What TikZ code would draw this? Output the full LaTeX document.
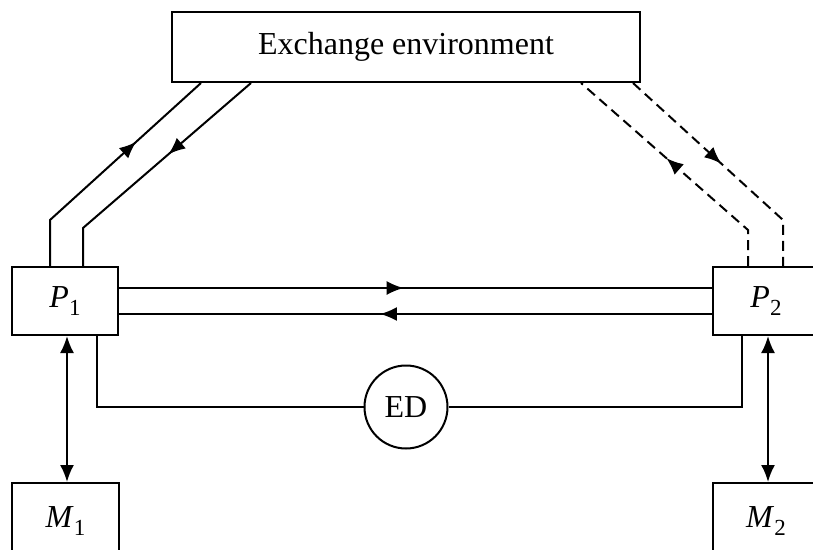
\documentclass[tikz,border=0pt]{standalone}
\usepackage{fontspec}
\setmainfont{Liberation Serif}
\usetikzlibrary{arrows.meta,decorations.markings,calc}
% lowered index after an italic letter
\newcommand{\lowidx}[1]{\raisebox{-0.22em}{\fontsize{23}{23}\selectfont\upshape #1}}
\tikzset{
  >={Latex[length=17pt,width=14pt]},
  box/.style={draw, rectangle, line width=2pt, inner sep=0pt,
              font=\fontsize{32}{36}\selectfont},
  link/.style={line width=2pt},
  dlink/.style={line width=2pt, dash pattern=on 10pt off 6pt},
  arrowat/.style={postaction={decorate},
    decoration={markings, mark=at position #1 with {\arrow{>}}}},
}
\begin{document}
\begin{tikzpicture}[x=1pt,y=-1pt]
\useasboundingbox (0,0) rectangle (813,549);
\clip (0,0) rectangle (813,549);

% blocks
\node[box, minimum width=468pt, minimum height=70pt] (ex) at (406,47) {Exchange environment};
\node[box, minimum width=106pt, minimum height=68pt] (P1) at (65,301) {\itshape P\/\lowidx{1}};
\node[box, minimum width=106pt, minimum height=68pt] (P2) at (766,301) {\itshape P\/\lowidx{2}};
\node[box, minimum width=107pt, minimum height=76pt] (M1) at (65.5,521) {\itshape M\/\lowidx{1}};
\node[box, minimum width=106pt, minimum height=76pt] (M2) at (766,521) {\itshape M\/\lowidx{2}};
\node[box, circle, minimum size=83pt] (ED) at (406,407) {ED};

% P1 <-> exchange environment (solid)
\coordinate (lo) at (50,220);
\coordinate (li) at (83,228);
\draw[link, arrowat=0.65] (P1.north -| lo) -- (lo) -- ($(ex.south west)+(30,0)$);
\draw[link, arrowat=0.42] ($(ex.south west)+(80,0)$) -- (li) -- (P1.north -| li);

% P2 <-> exchange environment (dashed)
\coordinate (ri) at (748,230);
\coordinate (ro) at (783,220);
\draw[dlink, arrowat=0.56] (P2.north -| ri) -- (ri) -- ($(ex.south east)+(-60,0)$);
\draw[dlink, arrowat=0.48] ($(ex.south east)+(-8,0)$) -- (ro) -- (P2.north -| ro);

% P1 <-> P2
\coordinate (hu) at (0,288);
\coordinate (hl) at (0,314);
\draw[link, arrowat=0.48] (P1.east |- hu) -- (P2.west |- hu);
\draw[link, arrowat=0.56] (P2.west |- hl) -- (P1.east |- hl);

% link through ED
\coordinate (el) at (97,0);
\coordinate (er) at (742,0);
\draw[link] (P1.south -| el) |- (ED.west);
\draw[link] (ED.east) -| (P2.south -| er);

% P <-> M
\coordinate (vl) at (67,0);
\coordinate (vr) at (768,0);
\draw[link, <->] (P1.south -| vl) -- (M1.north -| vl);
\draw[link, <->] (P2.south -| vr) -- (M2.north -| vr);
\end{tikzpicture}
\end{document}
